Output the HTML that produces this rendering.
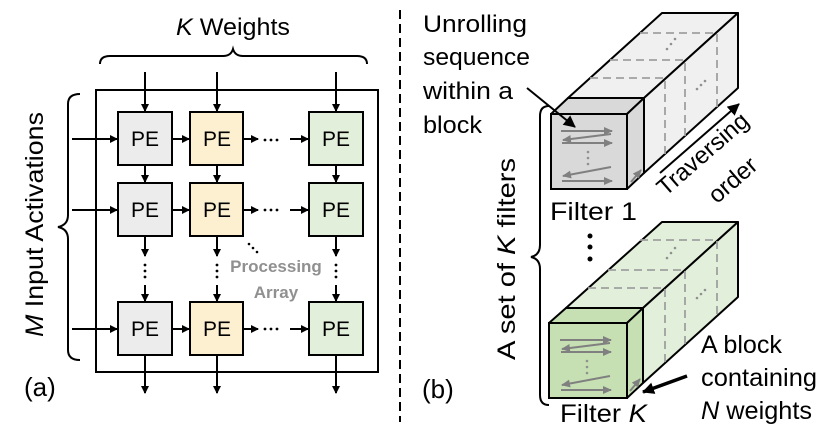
<!DOCTYPE html>
<html><head><meta charset="utf-8"><style>
body{margin:0;background:#fff}
svg{display:block}
text{font-family:"Liberation Sans",sans-serif;fill:#000}
</style></head><body>
<svg width="830" height="433" viewBox="0 0 830 433" xmlns="http://www.w3.org/2000/svg">
<defs>
<marker id="ah" markerWidth="8" markerHeight="8" refX="7" refY="4" orient="auto" markerUnits="userSpaceOnUse"><path d="M0,0 L8,4 L0,8 z" fill="#000"/></marker>
<marker id="ah2" markerWidth="12" markerHeight="12" refX="11" refY="6" orient="auto" markerUnits="userSpaceOnUse"><path d="M0,0 L12,6 L0,12 z" fill="#000"/></marker>
<marker id="ga" markerWidth="9" markerHeight="8" refX="8" refY="4" orient="auto" markerUnits="userSpaceOnUse"><path d="M0,0 L9,4 L0,8 z" fill="#808080"/></marker>
</defs>

<!-- Panel (a) -->
<text x="176" y="35" font-size="24" textLength="114" lengthAdjust="spacingAndGlyphs"><tspan font-style="italic">K</tspan> Weights</text>
<path d="M100,64 Q100,56 110,56 L223,56 Q231,56 233,49 Q235,56 243,56 L357,56 Q367,56 367,64" fill="none" stroke="#000" stroke-width="2"/>
<path d="M80,94 Q68,94 68,104 L68,215 Q68,225 58,227 Q68,229 68,239 L68,350 Q68,360 80,360" fill="none" stroke="#000" stroke-width="2"/>
<text transform="translate(43,337) rotate(-90)" font-size="25" textLength="225" lengthAdjust="spacingAndGlyphs"><tspan font-style="italic">M</tspan> Input Activations</text>
<rect x="96" y="90" width="282" height="282" fill="none" stroke="#000" stroke-width="2"/>

<g stroke="#000" stroke-width="2" fill="none">
<line x1="145" y1="72" x2="145" y2="111" marker-end="url(#ah)"/>
<line x1="217" y1="72" x2="217" y2="111" marker-end="url(#ah)"/>
<line x1="336" y1="72" x2="336" y2="111" marker-end="url(#ah)"/>
<line x1="72" y1="139" x2="117" y2="139" marker-end="url(#ah)"/>
<line x1="72" y1="210" x2="117" y2="210" marker-end="url(#ah)"/>
<line x1="72" y1="329" x2="117" y2="329" marker-end="url(#ah)"/>
<line x1="172" y1="139" x2="189" y2="139" marker-end="url(#ah)"/>
<line x1="172" y1="210" x2="189" y2="210" marker-end="url(#ah)"/>
<line x1="172" y1="329" x2="189" y2="329" marker-end="url(#ah)"/>
<line x1="243" y1="139" x2="258" y2="139" marker-end="url(#ah)"/>
<line x1="243" y1="210" x2="258" y2="210" marker-end="url(#ah)"/>
<line x1="243" y1="329" x2="258" y2="329" marker-end="url(#ah)"/>
<line x1="290" y1="139" x2="308" y2="139" marker-end="url(#ah)"/>
<line x1="290" y1="210" x2="308" y2="210" marker-end="url(#ah)"/>
<line x1="290" y1="329" x2="308" y2="329" marker-end="url(#ah)"/>
<line x1="145" y1="165" x2="145" y2="182" marker-end="url(#ah)"/>
<line x1="217" y1="165" x2="217" y2="182" marker-end="url(#ah)"/>
<line x1="336" y1="165" x2="336" y2="182" marker-end="url(#ah)"/>
<line x1="145" y1="236" x2="145" y2="256" marker-end="url(#ah)"/>
<line x1="217" y1="236" x2="217" y2="256" marker-end="url(#ah)"/>
<line x1="336" y1="236" x2="336" y2="256" marker-end="url(#ah)"/>
<line x1="145" y1="285" x2="145" y2="301" marker-end="url(#ah)"/>
<line x1="217" y1="285" x2="217" y2="301" marker-end="url(#ah)"/>
<line x1="336" y1="285" x2="336" y2="301" marker-end="url(#ah)"/>
<line x1="145" y1="355" x2="145" y2="393" marker-end="url(#ah)"/>
<line x1="217" y1="355" x2="217" y2="393" marker-end="url(#ah)"/>
<line x1="336" y1="355" x2="336" y2="393" marker-end="url(#ah)"/>
</g>
<g fill="#000">
<circle cx="265" cy="140" r="1.4"/><circle cx="271" cy="140" r="1.4"/><circle cx="277" cy="140" r="1.4"/>
<circle cx="265" cy="210" r="1.4"/><circle cx="271" cy="210" r="1.4"/><circle cx="277" cy="210" r="1.4"/>
<circle cx="265" cy="329" r="1.4"/><circle cx="271" cy="329" r="1.4"/><circle cx="277" cy="329" r="1.4"/>
<circle cx="145" cy="265" r="1.4"/><circle cx="145" cy="271" r="1.4"/><circle cx="145" cy="277" r="1.4"/>
<circle cx="217" cy="265" r="1.4"/><circle cx="217" cy="271" r="1.4"/><circle cx="217" cy="277" r="1.4"/>
<circle cx="336" cy="265" r="1.4"/><circle cx="336" cy="271" r="1.4"/><circle cx="336" cy="277" r="1.4"/>
<circle cx="249" cy="244" r="1.3"/><circle cx="253" cy="248" r="1.3"/><circle cx="257" cy="252" r="1.3"/>
</g>
<g stroke="#000" stroke-width="2">
<rect x="118" y="112" width="54" height="53" fill="#ececec"/>
<rect x="190" y="112" width="53" height="53" fill="#fdf0d0"/>
<rect x="309" y="112" width="54" height="53" fill="#e2efda"/>
<rect x="118" y="183" width="54" height="53" fill="#ececec"/>
<rect x="190" y="183" width="53" height="53" fill="#fdf0d0"/>
<rect x="309" y="183" width="54" height="53" fill="#e2efda"/>
<rect x="118" y="302" width="54" height="53" fill="#ececec"/>
<rect x="190" y="302" width="53" height="53" fill="#fdf0d0"/>
<rect x="309" y="302" width="54" height="53" fill="#e2efda"/>
</g>
<g font-size="21" text-anchor="middle">
<text x="145" y="146">PE</text><text x="217" y="146">PE</text><text x="336" y="146">PE</text>
<text x="145" y="217">PE</text><text x="217" y="217">PE</text><text x="336" y="217">PE</text>
<text x="145" y="336">PE</text><text x="217" y="336">PE</text><text x="336" y="336">PE</text>
</g>
<text x="276" y="272" font-size="17" font-weight="bold" style="fill:#909090" text-anchor="middle">Processing</text>
<text x="276" y="298" font-size="17" font-weight="bold" style="fill:#909090" text-anchor="middle">Array</text>
<text x="24" y="396" font-size="26">(a)</text>

<line x1="400" y1="10" x2="400" y2="422" stroke="#000" stroke-width="2" stroke-dasharray="9,5"/>

<!-- Panel (b) -->
<path d="M549,106 Q540,106 540,116 L540,245 Q540,255 531,257 Q540,259 540,269 L540,395 Q540,405 549,405" fill="none" stroke="#000" stroke-width="2"/>
<text transform="translate(515,360) rotate(-90)" font-size="25" textLength="202" lengthAdjust="spacingAndGlyphs">A set of <tspan font-style="italic">K</tspan> filters</text>
<text x="422" y="398" font-size="26">(b)</text>

<!-- filter 1 -->
<g>
<polygon points="568,98 662,13 738,13 644,98" fill="#f0f0f0" stroke="#000" stroke-width="2" stroke-linejoin="round"/>
<polygon points="644,98 738,13 738,88 644,173" fill="#f0f0f0" stroke="#000" stroke-width="2" stroke-linejoin="round"/>
<g stroke="#a0a0a0" stroke-width="1.8" stroke-dasharray="8,5" fill="none">
<polyline points="590,78 665,78 665,154"/>
<polyline points="610,60 685,60 685,136"/>
<polyline points="640,33 717,33 717,107"/>
</g>
<g fill="#909090"><circle cx="667" cy="49" r="1.3"/><circle cx="671" cy="44" r="1.3"/><circle cx="675" cy="39" r="1.3"/>
<circle cx="697" cy="89" r="1.3"/><circle cx="701" cy="85" r="1.3"/><circle cx="705" cy="81" r="1.3"/></g>
<polygon points="551,114 568,98 644,98 627,114" fill="#d9d9d9" stroke="#000" stroke-width="2" stroke-linejoin="round"/>
<polygon points="627,114 644,98 644,173 627,189" fill="#d9d9d9" stroke="#000" stroke-width="2" stroke-linejoin="round"/>
<rect x="551" y="114" width="76" height="75" fill="#d9d9d9" stroke="#000" stroke-width="2"/>
<g stroke="#808080" stroke-width="2" fill="none">
<line x1="561" y1="131" x2="612" y2="131" marker-end="url(#ga)"/>
<line x1="611" y1="134" x2="563" y2="140" marker-end="url(#ga)"/>
<line x1="562" y1="143" x2="612" y2="143" marker-end="url(#ga)"/>
<line x1="611" y1="167" x2="563" y2="176" marker-end="url(#ga)"/>
<line x1="562" y1="181" x2="612" y2="181" marker-end="url(#ga)"/>
<line x1="631" y1="182" x2="641" y2="170" marker-end="url(#ga)"/>
</g>
<g fill="#909090"><circle cx="588" cy="152" r="1.3"/><circle cx="588" cy="158" r="1.3"/><circle cx="588" cy="164" r="1.3"/></g>
</g>
<!-- filter K -->
<g>
<polygon points="566,308 662,222 738,222 643,308" fill="#e2efda" stroke="#000" stroke-width="2" stroke-linejoin="round"/>
<polygon points="643,308 738,222 738,297 643,383" fill="#e2efda" stroke="#000" stroke-width="2" stroke-linejoin="round"/>
<g stroke="#a0a0a0" stroke-width="1.8" stroke-dasharray="8,5" fill="none">
<polyline points="588,288 665,288 665,363"/>
<polyline points="608,270 685,270 685,345"/>
<polyline points="640,240 717,240 717,316"/>
</g>
<g fill="#909090"><circle cx="667" cy="258" r="1.3"/><circle cx="671" cy="253" r="1.3"/><circle cx="675" cy="248" r="1.3"/>
<circle cx="697" cy="298" r="1.3"/><circle cx="701" cy="294" r="1.3"/><circle cx="705" cy="290" r="1.3"/></g>
<polygon points="549,323 566,308 643,308 627,323" fill="#c6e0b4" stroke="#000" stroke-width="2" stroke-linejoin="round"/>
<polygon points="627,323 643,308 643,383 627,398" fill="#c6e0b4" stroke="#000" stroke-width="2" stroke-linejoin="round"/>
<rect x="549" y="323" width="78" height="75" fill="#c6e0b4" stroke="#000" stroke-width="2"/>
<g stroke="#808080" stroke-width="2" fill="none">
<line x1="560" y1="340" x2="611" y2="340" marker-end="url(#ga)"/>
<line x1="610" y1="343" x2="562" y2="349" marker-end="url(#ga)"/>
<line x1="561" y1="352" x2="611" y2="352" marker-end="url(#ga)"/>
<line x1="610" y1="376" x2="562" y2="385" marker-end="url(#ga)"/>
<line x1="561" y1="390" x2="611" y2="390" marker-end="url(#ga)"/>
<line x1="630" y1="391" x2="640" y2="379" marker-end="url(#ga)"/>
</g>
<g fill="#909090"><circle cx="587" cy="361" r="1.3"/><circle cx="587" cy="367" r="1.3"/><circle cx="587" cy="373" r="1.3"/></g>
</g>

<g fill="#000"><circle cx="590" cy="236" r="2.5"/><circle cx="590" cy="247" r="2.5"/><circle cx="590" cy="259" r="2.5"/></g>

<line x1="527" y1="88" x2="575" y2="127" stroke="#000" stroke-width="2" marker-end="url(#ah2)"/>
<line x1="660" y1="173" x2="739" y2="104" stroke="#000" stroke-width="2" marker-end="url(#ah2)"/>
<line x1="687" y1="376" x2="643" y2="392" stroke="#000" stroke-width="3.5" marker-end="url(#ah2)"/>

<text x="423" y="32" font-size="24" textLength="104" lengthAdjust="spacingAndGlyphs">Unrolling</text>
<text x="423" y="65" font-size="24" textLength="107" lengthAdjust="spacingAndGlyphs">sequence</text>
<text x="423" y="99" font-size="24" textLength="90" lengthAdjust="spacingAndGlyphs">within a</text>
<text x="423" y="133" font-size="24" textLength="59" lengthAdjust="spacingAndGlyphs">block</text>
<text transform="translate(708,160) rotate(-41)" font-size="24" text-anchor="middle">Traversing</text>
<text transform="translate(738,186) rotate(-41)" font-size="24" text-anchor="middle">order</text>
<text x="550" y="220" font-size="25" textLength="87" lengthAdjust="spacingAndGlyphs">Filter 1</text>
<text x="560" y="422" font-size="25" textLength="87" lengthAdjust="spacingAndGlyphs">Filter <tspan font-style="italic">K</tspan></text>
<text x="701" y="353" font-size="25" textLength="81" lengthAdjust="spacingAndGlyphs">A block</text>
<text x="701" y="386" font-size="25" textLength="116" lengthAdjust="spacingAndGlyphs">containing</text>
<text x="701" y="419" font-size="25" textLength="111" lengthAdjust="spacingAndGlyphs"><tspan font-style="italic">N</tspan> weights</text>
</svg>
</body></html>
